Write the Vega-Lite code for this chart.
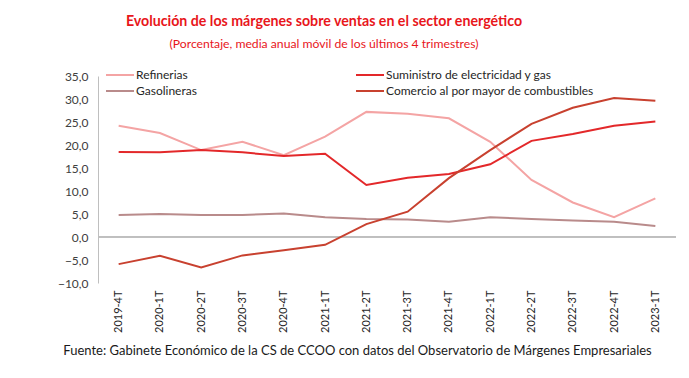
{
  "$schema": "https://vega.github.io/schema/vega-lite/v6.json",
  "autosize": {"type": "none"},
  "width": 578,
  "height": 207,
  "padding": {"left": 98, "top": 76, "right": 13, "bottom": 95},
  "background": "white",
  "config": {
    "font": "Lato",
    "view": {"stroke": null},
    "axis": {"labelFont": "Lato", "titleFont": "Lato"}
  },
  "title": {
    "text": "Evolución de los márgenes sobre ventas en el sector energético",
    "subtitle": "(Porcentaje, media anual móvil de los últimos 4 trimestres)",
    "font": "Lato",
    "fontSize": 14.2,
    "fontWeight": "bold",
    "color": "#e8161b",
    "subtitleFont": "Lato",
    "subtitleFontSize": 12.2,
    "subtitleColor": "#e8161b",
    "subtitlePadding": 9,
    "anchor": "middle",
    "dx": -63,
    "dy": -4,
    "offset": 15
  },
  "data": {
    "values": [
      {"q": "2019-4T", "s": "Refinerias", "v": 24.2},
      {"q": "2020-1T", "s": "Refinerias", "v": 22.6},
      {"q": "2020-2T", "s": "Refinerias", "v": 18.9},
      {"q": "2020-3T", "s": "Refinerias", "v": 20.7},
      {"q": "2020-4T", "s": "Refinerias", "v": 17.8},
      {"q": "2021-1T", "s": "Refinerias", "v": 21.8},
      {"q": "2021-2T", "s": "Refinerias", "v": 27.2},
      {"q": "2021-3T", "s": "Refinerias", "v": 26.8},
      {"q": "2021-4T", "s": "Refinerias", "v": 25.8},
      {"q": "2022-1T", "s": "Refinerias", "v": 20.7},
      {"q": "2022-2T", "s": "Refinerias", "v": 12.4},
      {"q": "2022-3T", "s": "Refinerias", "v": 7.5},
      {"q": "2022-4T", "s": "Refinerias", "v": 4.3},
      {"q": "2023-1T", "s": "Refinerias", "v": 8.4},
      {"q": "2019-4T", "s": "Suministro de electricidad y gas", "v": 18.5},
      {"q": "2020-1T", "s": "Suministro de electricidad y gas", "v": 18.4},
      {"q": "2020-2T", "s": "Suministro de electricidad y gas", "v": 18.9},
      {"q": "2020-3T", "s": "Suministro de electricidad y gas", "v": 18.4},
      {"q": "2020-4T", "s": "Suministro de electricidad y gas", "v": 17.6},
      {"q": "2021-1T", "s": "Suministro de electricidad y gas", "v": 18.1},
      {"q": "2021-2T", "s": "Suministro de electricidad y gas", "v": 11.3},
      {"q": "2021-3T", "s": "Suministro de electricidad y gas", "v": 12.9},
      {"q": "2021-4T", "s": "Suministro de electricidad y gas", "v": 13.7},
      {"q": "2022-1T", "s": "Suministro de electricidad y gas", "v": 15.8},
      {"q": "2022-2T", "s": "Suministro de electricidad y gas", "v": 20.9},
      {"q": "2022-3T", "s": "Suministro de electricidad y gas", "v": 22.4},
      {"q": "2022-4T", "s": "Suministro de electricidad y gas", "v": 24.2},
      {"q": "2023-1T", "s": "Suministro de electricidad y gas", "v": 25.1},
      {"q": "2019-4T", "s": "Gasolineras", "v": 4.8},
      {"q": "2020-1T", "s": "Gasolineras", "v": 5.0},
      {"q": "2020-2T", "s": "Gasolineras", "v": 4.8},
      {"q": "2020-3T", "s": "Gasolineras", "v": 4.8},
      {"q": "2020-4T", "s": "Gasolineras", "v": 5.1},
      {"q": "2021-1T", "s": "Gasolineras", "v": 4.3},
      {"q": "2021-2T", "s": "Gasolineras", "v": 3.9},
      {"q": "2021-3T", "s": "Gasolineras", "v": 3.8},
      {"q": "2021-4T", "s": "Gasolineras", "v": 3.3},
      {"q": "2022-1T", "s": "Gasolineras", "v": 4.3},
      {"q": "2022-2T", "s": "Gasolineras", "v": 3.9},
      {"q": "2022-3T", "s": "Gasolineras", "v": 3.6},
      {"q": "2022-4T", "s": "Gasolineras", "v": 3.3},
      {"q": "2023-1T", "s": "Gasolineras", "v": 2.4},
      {"q": "2019-4T", "s": "Comercio al por mayor de combustibles", "v": -5.9},
      {"q": "2020-1T", "s": "Comercio al por mayor de combustibles", "v": -4.1},
      {"q": "2020-2T", "s": "Comercio al por mayor de combustibles", "v": -6.6},
      {"q": "2020-3T", "s": "Comercio al por mayor de combustibles", "v": -4.0},
      {"q": "2020-4T", "s": "Comercio al por mayor de combustibles", "v": -2.9},
      {"q": "2021-1T", "s": "Comercio al por mayor de combustibles", "v": -1.7},
      {"q": "2021-2T", "s": "Comercio al por mayor de combustibles", "v": 2.8},
      {"q": "2021-3T", "s": "Comercio al por mayor de combustibles", "v": 5.5},
      {"q": "2021-4T", "s": "Comercio al por mayor de combustibles", "v": 12.8},
      {"q": "2022-1T", "s": "Comercio al por mayor de combustibles", "v": 18.9},
      {"q": "2022-2T", "s": "Comercio al por mayor de combustibles", "v": 24.6},
      {"q": "2022-3T", "s": "Comercio al por mayor de combustibles", "v": 28.1},
      {"q": "2022-4T", "s": "Comercio al por mayor de combustibles", "v": 30.2},
      {"q": "2023-1T", "s": "Comercio al por mayor de combustibles", "v": 29.6}
    ]
  },
  "layer": [
    {
      "mark": {"type": "rule", "color": "#bfbfbf", "strokeWidth": 1},
      "encoding": {
        "y": {
          "datum": 0,
          "type": "quantitative",
          "scale": {"domain": [-10, 35], "nice": false, "zero": false},
          "axis": {
            "title": null,
            "values": [-10, -5, 0, 5, 10, 15, 20, 25, 30, 35],
            "labelExpr": "replace(format(datum.value, '.1f'), '.', ',')",
            "labelOverlap": false,
            "labelFontSize": 12,
            "labelColor": "#404040",
            "labelPadding": 10,
            "ticks": false,
            "grid": false,
            "domainColor": "#bfbfbf",
            "domainWidth": 1
          }
        }
      }
    },
    {
      "mark": {"type": "line", "strokeWidth": 2},
      "encoding": {
        "x": {
          "field": "q",
          "type": "ordinal",
          "scale": {"type": "point", "padding": 0.5},
          "axis": {
            "title": "Fuente: Gabinete Económico de la CS de CCOO con datos del Observatorio de Márgenes Empresariales",
            "titleFont": "Lato",
            "titleFontSize": 13,
            "titleFontWeight": "normal",
            "titleColor": "#1a1a1a",
            "titlePadding": 12,
            "titleX": 259,
            "labelAngle": -90,
            "labelFontSize": 11,
            "labelColor": "#262626",
            "labelPadding": 7,
            "domain": false,
            "ticks": false
          }
        },
        "y": {
          "field": "v",
          "type": "quantitative",
          "scale": {"domain": [-10, 35], "nice": false, "zero": false},
          "axis": {
            "title": null,
            "values": [-10, -5, 0, 5, 10, 15, 20, 25, 30, 35],
            "labelExpr": "replace(format(datum.value, '.1f'), '.', ',')",
            "labelOverlap": false,
            "labelFontSize": 12,
            "labelColor": "#404040",
            "labelPadding": 10,
            "ticks": false,
            "grid": false,
            "domainColor": "#bfbfbf",
            "domainWidth": 1
          }
        },
        "color": {
          "field": "s",
          "type": "nominal",
          "sort": ["Refinerias", "Gasolineras", "Suministro de electricidad y gas", "Comercio al por mayor de combustibles"],
          "scale": {
            "domain": ["Refinerias", "Gasolineras", "Suministro de electricidad y gas", "Comercio al por mayor de combustibles"],
            "range": ["#f4a4a4", "#b98b8b", "#e3282a", "#c8412f"]
          },
          "legend": {
            "title": null,
            "orient": "none",
            "legendX": 16,
            "legendY": -7,
            "columns": 2,
            "columnPadding": 155,
            "rowPadding": 4,
            "symbolType": "M-2.8,0H2.8",
            "symbolSize": 100,
            "symbolStrokeWidth": 2,
            "labelFontSize": 12,
            "labelLimit": 400,
            "labelColor": "#262626",
            "labelOffset": 10
          }
        }
      }
    }
  ]
}
